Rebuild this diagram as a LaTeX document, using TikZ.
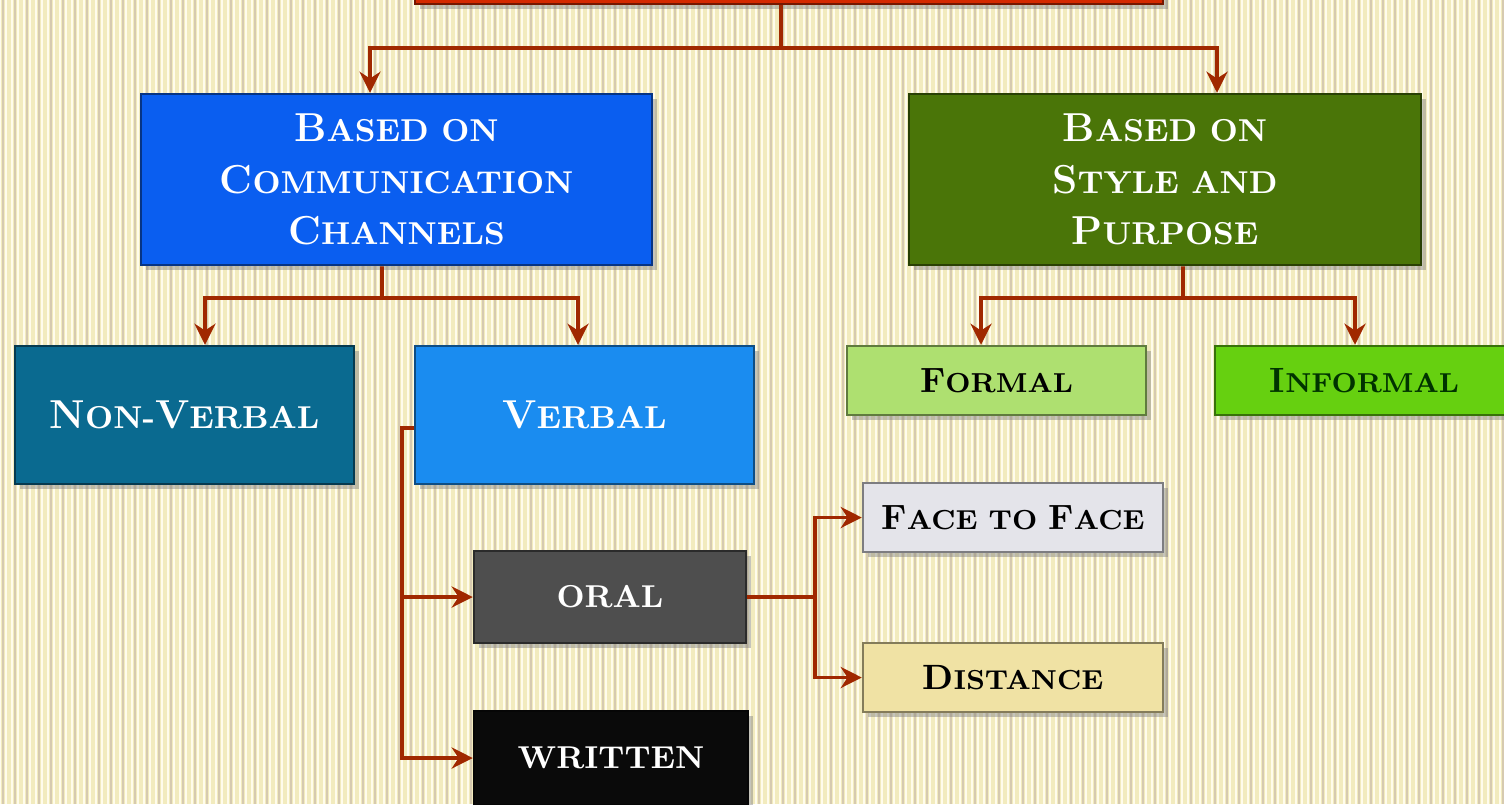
\documentclass[tikz,border=0pt]{standalone}
\usepackage{tikz}
\usetikzlibrary{arrows.meta,shadows}

\definecolor{paper}{HTML}{F2EBBE}
\definecolor{stripewhite}{HTML}{FFFCEC}
\definecolor{stripetan}{HTML}{D6CAB0}
\definecolor{linkred}{HTML}{A02800}
\definecolor{topred}{HTML}{D42A00}
\definecolor{chanblue}{HTML}{0A5EF0}
\definecolor{styleg}{HTML}{4A7508}
\definecolor{nvteal}{HTML}{0A6A90}
\definecolor{vblue}{HTML}{1A8CF0}
\definecolor{formalg}{HTML}{AEE070}
\definecolor{informalg}{HTML}{66D010}
\definecolor{oralgray}{HTML}{4E4E4E}
\definecolor{writtenblk}{HTML}{0A0A0A}
\definecolor{facegray}{HTML}{E4E4EA}
\definecolor{distyel}{HTML}{F0E2A4}

\newcommand\Ini[1]{{\fontsize{11.5}{14.7}\selectfont #1}}
\newcommand\IniS[1]{{\fontsize{10}{12}\selectfont #1}}

\begin{document}
\begin{tikzpicture}[
  catbox/.style={draw=#1!55!black, fill=#1, line width=0.7pt, align=center,
    inner sep=0pt, font=\bfseries\fontsize{9}{14.7}\selectfont,
    drop shadow={shadow xshift=0.5mm, shadow yshift=-0.5mm, opacity=0.45}},
  smalltext/.style={font=\bfseries\fontsize{7.8}{12}\selectfont},
  link/.style={draw=linkred, line width=1.1pt, -{Stealth[length=6pt,width=6pt]}},
]
  \clip (0,0) rectangle (15.04,-8.04);

  %% Background stripes
  \fill[paper] (0,0) rectangle (15.04,-8.04);
  \foreach \i in {0,...,250}
    \draw[stripewhite, line width=0.75pt] ({\i*0.06},0) -- ({\i*0.06},-8.04);
  \foreach \i in {0,...,125}
    \draw[stripetan, line width=0.5pt] ({\i*0.12+0.03},0) -- ({\i*0.12+0.03},-8.04);

  %% Boxes
  \node[catbox=topred, minimum width=7.48cm, minimum height=1cm] (top) at (7.89,0.46) {};

  \node[catbox=chanblue, text=white, minimum width=5.11cm, minimum height=1.71cm] (chan) at (3.965,-1.795)
    {\Ini{B}ASED ON\\ \Ini{C}OMMUNICATION\\ \Ini{C}HANNELS};
  \node[catbox=styleg, text=white, minimum width=5.12cm, minimum height=1.71cm] (style) at (11.65,-1.795)
    {\Ini{B}ASED ON\\ \Ini{S}TYLE AND\\ \Ini{P}URPOSE};

  \node[catbox=nvteal, text=white, minimum width=3.39cm, minimum height=1.38cm] (nonverb) at (1.845,-4.15)
    {\Ini{N}ON-\Ini{V}ERBAL};
  \node[catbox=vblue, text=white, minimum width=3.39cm, minimum height=1.38cm] (verb) at (5.845,-4.15)
    {\Ini{V}ERBAL};
  \node[catbox=formalg, smalltext, text=black, minimum width=2.99cm, minimum height=0.69cm] (formal) at (9.965,-3.805)
    {\IniS{F}ORMAL};
  \node[catbox=informalg, smalltext, text=black!80!green, minimum width=2.99cm, minimum height=0.69cm] (informal) at (13.645,-3.805)
    {\IniS{I}NFORMAL};

  \node[catbox=oralgray, text=white, minimum width=2.72cm, minimum height=0.92cm] (oral) at (6.10,-5.97)
    {ORAL};
  \node[catbox=writtenblk, text=white, minimum width=2.74cm, minimum height=0.94cm] (written) at (6.11,-7.58)
    {WRITTEN};
  \node[catbox=facegray, smalltext, text=black, minimum width=3.0cm, minimum height=0.69cm] (face) at (10.13,-5.175)
    {\IniS{F}ACE TO \IniS{F}ACE};
  \node[catbox=distyel, smalltext, text=black, minimum width=3.0cm, minimum height=0.69cm] (dist) at (10.13,-6.775)
    {\IniS{D}ISTANCE};

  %% Connectors
  \coordinate (hubA) at (7.81,-0.48);
  \coordinate (hubB) at (3.82,-2.98);
  \coordinate (hubC) at (11.83,-2.98);
  \coordinate (vbus) at (4.02,-4.28);
  \coordinate (obus) at (8.15,-5.97);

  \draw[link,-] ([xshift=-0.08cm]top.south) -- (hubA);
  \draw[link] (hubA) -| ([xshift=-0.265cm]chan.north);
  \draw[link] (hubA) -| ([xshift=0.52cm]style.north);

  \draw[link,-] ([xshift=-0.145cm]chan.south) -- (hubB);
  \draw[link] (hubB) -| ([xshift=0.205cm]nonverb.north);
  \draw[link] (hubB) -| ([xshift=-0.065cm]verb.north);

  \draw[link,-] ([xshift=0.18cm]style.south) -- (hubC);
  \draw[link] (hubC) -| ([xshift=-0.155cm]formal.north);
  \draw[link] (hubC) -| ([xshift=-0.095cm]informal.north);

  \draw[link] ([yshift=-0.13cm]verb.west) -- (vbus) |- (written.west);
  \draw[link] (vbus) |- (oral.west);

  \draw[link,-] (oral.east) -- (obus);
  \draw[link] (obus) |- (face.west);
  \draw[link] (obus) |- (dist.west);
\end{tikzpicture}
\end{document}
